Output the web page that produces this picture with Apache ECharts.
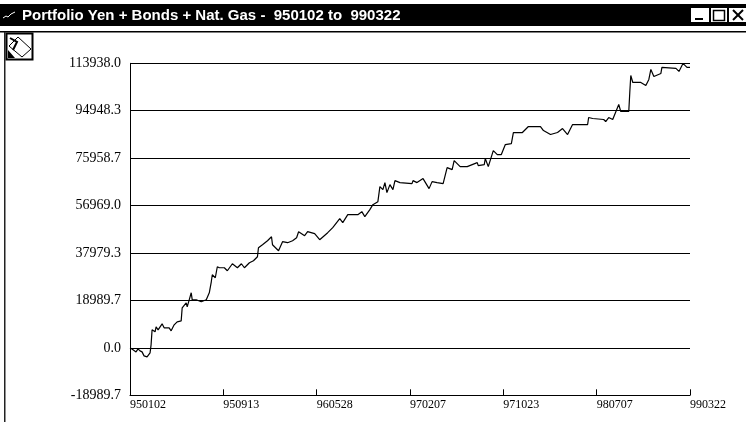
<!DOCTYPE html>
<html><head><meta charset="utf-8">
<style>html,body{margin:0;padding:0;background:#fff}#c{width:746px;height:422px}</style>
<script src="https://cdn.jsdelivr.net/npm/echarts@6/dist/echarts.min.js"></script>
</head><body><div id="c"></div>
<script>
const titleText = 'Portfolio Yen + Bonds + Nat. Gas -  950102 to  990322';
const dateTicks = ['950102','950913','960528','970207','971023','980707','990322'];
const yTicks = ['-18989.7','0.0','18989.7','37979.3','56969.0','75958.7','94948.3','113938.0'];
const barIndex = [0,3,6,8,10,12,14,17,20,21,22,25,26,28,30,32,34,39,41,44,47,51,52,56,57,59,61,62,66,71,76,79,81,82,85,87,89,94,97,102,107,111,114,119,123,127,128,132,137,141,142,148,152,157,162,166,168,174,177,184,189,197,202,209,212,217,227,231,234,239,242,247,249,252,254,256,259,262,264,269,281,282,286,292,298,301,306,312,316,321,323,329,336,346,347,353,354,357,362,366,370,374,380,382,391,397,409,412,419,426,431,436,441,456,457,461,472,474,477,481,487,489,497,498,499,501,509,514,517,519,522,529,530,544,547,551,555,558];
const equity = [0,-802,-1604,-401,-1203,-1604,-3208,-3609,-2005,1203,7218,6416,8421,7218,8421,9624,8020,8020,6817,9223,10426,10827,16040,18045,16441,19248,22055,19248,19248,18446,19248,22055,26466,29273,28070,32481,32080,32080,30877,33684,32080,33684,32080,34085,34887,36491,40100,41303,42906,44511,41303,38897,42506,42105,42907,44110,46516,44912,46516,45714,43308,46115,48120,51729,50125,53333,53333,54536,52531,55338,57343,58546,64561,63358,66165,62155,65363,63358,66967,66165,65764,66967,66165,67769,63759,66566,66165,65764,72180,71378,74987,72581,72581,74185,72982,73383,75789,72581,78997,77393,77393,81403,81804,86215,86215,88621,88621,87017,85413,86215,87819,85413,89423,89423,92230,91829,91428,90626,92230,91428,97443,94636,94636,102255,109072,106265,106265,105062,107468,111478,108671,109874,112280,111879,110676,113884,112280,112280];

const chart = echarts.init(document.getElementById('c'), null, {renderer:'canvas'});
const yStep = 18989.7;
const xStep = 93;
const serif = '"Liberation Serif","Times New Roman",serif';
chart.setOption({
  animation:false,
  backgroundColor:'#fff',
  grid:{left:130,top:63.3,width:560,height:332,containLabel:false},
  xAxis:{type:'value',min:0,max:xStep*6,interval:xStep,
    axisLine:{show:true,onZero:false,lineStyle:{color:'#000',width:1}},
    axisTick:{show:true,inside:true,length:6,lineStyle:{color:'#000',width:1}},
    splitLine:{show:false},
    axisLabel:{show:true,color:'#000',fontFamily:serif,fontSize:12,margin:4,hideOverlap:false,showMinLabel:true,showMaxLabel:true,align:'left',
      formatter:v=>dateTicks[Math.round(v/xStep)]}},
  yAxis:{type:'value',min:-yStep,max:yStep*6,interval:yStep,
    axisLine:{show:true,onZero:false,lineStyle:{color:'#000',width:1}},
    axisTick:{show:false},
    splitLine:{show:true,lineStyle:{color:'#000',width:1,type:'solid'}},
    axisLabel:{show:true,color:'#000',fontFamily:serif,fontSize:14,margin:9,
      formatter:v=>yTicks[Math.round(v/yStep)+1]}},
  series:[{type:'line',data:barIndex.map((x,i)=>[x,equity[i]]),showSymbol:false,smooth:false,
    lineStyle:{color:'#000',width:1.2},clip:false,z:5}],
  graphic:{elements:[
    {type:'rect',shape:{x:0,y:4,width:746,height:22},style:{fill:'#000'},silent:true},
    {type:'rect',shape:{x:0,y:31,width:746,height:1.5},style:{fill:'#000'},silent:true},
    {type:'rect',shape:{x:4,y:32,width:1.5,height:390},style:{fill:'#222'},silent:true},
    {type:'polyline',shape:{points:[[3,18],[6,16],[8,17],[11,14],[15,12]]},style:{stroke:'#fff',fill:null,lineWidth:1},silent:true},
    {type:'text',style:{x:22,y:16,text:titleText,fill:'#fff',font:'bold 15px "Liberation Sans",Arial,sans-serif',textVerticalAlign:'middle'},silent:true},
    {type:'rect',shape:{x:6.5,y:33.5,width:26,height:26},style:{fill:'#fff',stroke:'#000',lineWidth:2},silent:true},
    {type:'polygon',shape:{points:[[18,37],[31,49],[22,57],[9,46]]},style:{fill:'#fff',stroke:'#000',lineWidth:1},silent:true},
    {type:'polyline',shape:{points:[[10,38],[17,42],[13,50]]},style:{stroke:'#000',fill:null,lineWidth:2},silent:true},
    {type:'polygon',shape:{points:[[8,50],[15,58],[8,58]]},style:{fill:'#000'},silent:true},
    {type:'rect',shape:{x:691,y:8,width:18,height:14},style:{fill:'#fff'},silent:true},
    {type:'rect',shape:{x:695,y:18,width:8,height:2},style:{fill:'#000'},silent:true},
    {type:'rect',shape:{x:711,y:8,width:16,height:14},style:{fill:'#fff'},silent:true},
    {type:'rect',shape:{x:713.5,y:10.5,width:11,height:10},style:{fill:'#fff',stroke:'#000',lineWidth:1.5},silent:true},
    {type:'rect',shape:{x:729,y:8,width:17,height:14},style:{fill:'#fff'},silent:true},
    {type:'line',shape:{x1:733,y1:10,x2:743,y2:20},style:{stroke:'#000',lineWidth:2},silent:true},
    {type:'line',shape:{x1:743,y1:10,x2:733,y2:20},style:{stroke:'#000',lineWidth:2},silent:true}
  ]}
});
</script></body></html>
